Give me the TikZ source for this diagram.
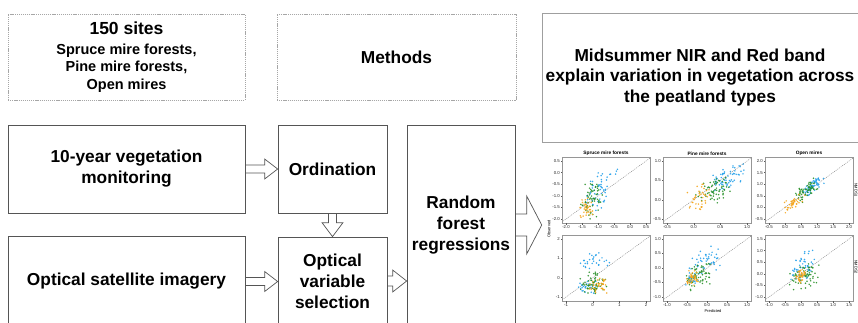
\documentclass[tikz,border=0pt]{standalone}
\usepackage{fontspec}
\setmainfont{Liberation Sans}
\usetikzlibrary{positioning, calc}

\definecolor{PeatBlue}{RGB}{35,160,235}
\definecolor{PeatGreen}{RGB}{40,145,40}
\definecolor{PeatOrange}{RGB}{245,165,25}
\definecolor{PeatGray}{RGB}{85,85,85}
\definecolor{FrameGray}{RGB}{150,150,150}

\newcommand{\boxfont}{\fontsize{17.3}{21}\selectfont\bfseries}

% hollow block arrows: from, to, shaft half width, head half width, head length
\newcommand{\flowright}[5]{%
  \draw[hollow] let \p1=(#1), \p2=(#2) in
    (\x1,\y1+#3pt) -- (\x2-#5pt,\y1+#3pt) -- (\x2-#5pt,\y1+#4pt) -- (\x2,\y1)
    -- (\x2-#5pt,\y1-#4pt) -- (\x2-#5pt,\y1-#3pt) -- (\x1,\y1-#3pt);}
\newcommand{\flowdown}[5]{%
  \draw[hollow] let \p1=(#1), \p2=(#2) in
    (\x1-#3pt,\y1) -- (\x1-#3pt,\y2+#5pt) -- (\x1-#4pt,\y2+#5pt) -- (\x1,\y2)
    -- (\x1+#4pt,\y2+#5pt) -- (\x1+#3pt,\y2+#5pt) -- (\x1+#3pt,\y1);}

% scatter of one peatland group: colour, count, centre x, centre y, spread x, spread y, correlation
\newcommand{\pointcloud}[7]{%
  \foreach \k in {1,...,#2} {
    \pgfmathsetmacro{\ra}{(rand+rand)*0.6}
    \pgfmathsetmacro{\rb}{(rand+rand)*0.6}
    \fill[#1, fill opacity=0.9] ({#3+#5*\ra},{#4+#6*(#7*\ra+sqrt(1-#7*#7)*\rb)}) circle (0.85pt);
  }}

% observed vs predicted panel: name, left, top, first tick, last tick, ticks, points
\newcommand{\scatterpanel}[7]{%
  \node[plotframe] (#1) at ({#2+44},{#3+33}) {};
  \pgfmathsetmacro{\psx}{80/(#5-#4)}
  \pgfmathsetmacro{\psy}{58/(#5-#4)}
  \begin{scope}[shift={({#2+4-(#4)*\psx},{#3+62+(#4)*\psy})}, x=\psx pt, y=\psy pt]
    \pgfmathsetmacro{\pfl}{#4-4/\psx}
    \pgfmathsetmacro{\pfr}{#5+4/\psx}
    \pgfmathsetmacro{\pfb}{#4-4/\psy}
    \pgfmathsetmacro{\pft}{#5+4/\psy}
    \foreach \tk in {#6} {
      \draw[axistick] (\tk,\pfb) -- ++(0,-1.5pt) node[ticklabel, below] {\tk};
      \draw[axistick] (\pfl,\tk) -- ++(-1.5pt,0) node[ticklabel, left] {\tk};
    }
    \begin{scope}
      \clip (\pfl,\pfb) rectangle (\pfr,\pft);
      \draw[oneone] ({#4-1},{#4-1}) -- ({#5+1},{#5+1});
      #7
    \end{scope}
  \end{scope}}

\begin{document}
\begin{tikzpicture}[
  x=1pt, y=-1pt,
  stepbox/.style={draw=PeatGray, line width=0.7pt, inner sep=0pt, align=center, font=\boxfont},
  notebox/.style={draw=gray!70, line width=0.6pt, dash pattern=on 1.2pt off 0.9pt, inner sep=0pt, align=center, font=\boxfont},
  resultbox/.style={draw=gray!75, line width=1pt, inner sep=0pt, align=center, font=\fontsize{17.3}{20.5}\selectfont\bfseries},
  hollow/.style={draw=PeatGray, line width=0.7pt, line join=miter},
  plotframe/.style={draw=FrameGray, line width=0.9pt, minimum width=88pt, minimum height=66pt, inner sep=0pt},
  axistick/.style={draw=gray!70!black, line width=0.3pt},
  ticklabel/.style={font=\fontsize{4.3}{5}\selectfont, text=gray!30!black, inner sep=0.6pt},
  paneltitle/.style={font=\fontsize{4.8}{5.5}\selectfont\bfseries, inner sep=0.8pt},
  axistitle/.style={font=\fontsize{4}{5}\selectfont, inner sep=0pt},
  oneone/.style={gray, dash pattern=on 1pt off 1pt, line width=0.4pt}
]
\fill[white] (0,0) rectangle (858,322);
\useasboundingbox (0,0) rectangle (858,322);
\pgfmathsetseed{2024}

% Top row: study design, methods, main result
\node[notebox, minimum width=237pt, minimum height=86pt, font=\fontsize{14.5}{17.5}\selectfont\bfseries] (sites) at (126.5,57)
  {{\fontsize{17.5}{20}\selectfont 150 sites}\\[2.5pt]Spruce mire forests,\\Pine mire forests,\\Open mires};
\node[notebox, minimum width=239pt, minimum height=86pt] (methods) at (396.5,57) {Methods};
\node[resultbox, minimum width=316pt, minimum height=129pt] (result) at (700,77.5)
  {Midsummer NIR and Red band\\explain variation in vegetation across\\the peatland types};

% Data sources
\node[stepbox, minimum width=237pt, minimum height=88pt] (vegmon) at (126.5,169) {10-year vegetation\\monitoring};
\node[stepbox, minimum width=237pt, minimum height=91pt] (satimg) at (126.5,281.5) {Optical satellite imagery};

% Analysis steps
\node[stepbox, minimum width=109pt, minimum height=88pt] (ordin) at (332.5,169) {Ordination};
\node[stepbox, minimum width=109pt, minimum height=88pt] (optvar) at (332.5,281) {Optical\\variable\\selection};
\node[stepbox, minimum width=108pt, minimum height=200pt] (rfreg) at (461,225) {Random\\forest\\regressions};
\coordinate (plotsin) at (541.7,224);

% Flow
\flowright{vegmon.east}{ordin.west}{4}{10}{13}
\flowright{satimg.east}{optvar.west}{4}{10}{13}
\flowdown{ordin.south}{optvar.north}{4}{10.5}{14}
\flowright{optvar.east}{rfreg.west}{5}{11}{14}
\flowright{rfreg.east}{plotsin}{11}{29}{15}

% Observed vs predicted panels
\scatterpanel{spruceA}{562}{157}{-2.0}{0.5}{-2.0,-1.5,-1.0,-0.5,0.0,0.5}{
  \pointcloud{PeatBlue}{55}{-1.05}{-0.85}{0.4}{0.8}{0.3}
  \pointcloud{PeatBlue}{5}{-0.5}{0.0}{0.15}{0.15}{0}
  \pointcloud{PeatGreen}{60}{-1.2}{-1.2}{0.3}{0.7}{0.2}
  \pointcloud{PeatOrange}{35}{-1.35}{-1.55}{0.2}{0.45}{0}}
\scatterpanel{pineA}{663}{157}{-0.5}{1.0}{-0.5,0.0,0.5,1.0}{
  \pointcloud{PeatBlue}{65}{0.62}{0.55}{0.3}{0.35}{0.5}
  \pointcloud{PeatGreen}{65}{0.4}{0.2}{0.35}{0.35}{0.4}
  \pointcloud{PeatOrange}{40}{0.1}{0.05}{0.22}{0.35}{0.3}}
\scatterpanel{openA}{765}{157}{-0.5}{2.0}{-0.5,0.0,0.5,1.0,1.5,2.0}{
  \pointcloud{PeatBlue}{65}{0.9}{0.95}{0.3}{0.4}{0.8}
  \pointcloud{PeatGreen}{60}{0.7}{0.75}{0.35}{0.5}{0.7}
  \pointcloud{PeatOrange}{40}{0.3}{0.2}{0.3}{0.35}{0.6}}
\scatterpanel{spruceB}{562}{235}{-1}{2}{-1,0,1,2}{
  \pointcloud{PeatBlue}{30}{0.1}{0.9}{0.6}{0.5}{0}
  \pointcloud{PeatBlue}{30}{-0.2}{-0.5}{0.35}{0.3}{0}
  \pointcloud{PeatGreen}{65}{0.05}{-0.3}{0.5}{0.6}{0.3}
  \pointcloud{PeatOrange}{40}{0.25}{-0.4}{0.35}{0.35}{0}}
\scatterpanel{pineB}{663}{235}{-1.0}{1.0}{-1.0,-0.5,0.0,0.5,1.0}{
  \pointcloud{PeatBlue}{45}{-0.05}{0.3}{0.35}{0.5}{0.3}
  \pointcloud{PeatBlue}{25}{-0.35}{-0.4}{0.18}{0.25}{0}
  \pointcloud{PeatGreen}{65}{-0.2}{-0.25}{0.35}{0.45}{0.3}
  \pointcloud{PeatOrange}{40}{-0.38}{-0.35}{0.14}{0.22}{0}}
\scatterpanel{openB}{765}{235}{-1.0}{1.5}{-1.0,-0.5,0.0,0.5,1.0,1.5}{
  \pointcloud{PeatBlue}{55}{0.05}{0.3}{0.35}{0.6}{0.4}
  \pointcloud{PeatGreen}{60}{0.1}{-0.15}{0.45}{0.5}{0.3}
  \pointcloud{PeatOrange}{40}{0.0}{-0.1}{0.15}{0.28}{0.3}}

% Panel titles and axis titles
\node[paneltitle, above=0.5pt of spruceA] (titleA) {Spruce mire forests};
\node[paneltitle, above=0.5pt of pineA] (titleB) {Pine mire forests};
\node[paneltitle, above=0.5pt of openA] (titleC) {Open mires};
\node[axistitle, rotate=90] (obs) at (549,229) {Observed};
\node[axistitle] (pred) at (713,311) {Predicted};
\node[axistitle, rotate=-90] (rowA) at (856,190) {NMDS1};
\node[axistitle, rotate=-90] (rowB) at (856,267) {NMDS2};

\end{tikzpicture}
\end{document}
